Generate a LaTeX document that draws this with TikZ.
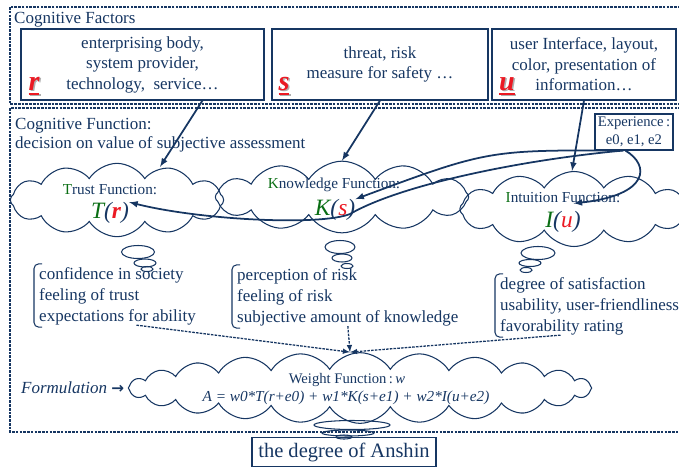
\documentclass[tikz,border=0pt]{standalone}
\usepackage{fontspec}
\setmainfont{Liberation Serif}
\newfontfamily\arrowfont{DejaVu Sans}
\usepackage{tikz}
\usetikzlibrary{arrows,calc,positioning,shapes.symbols}
\definecolor{navy}{RGB}{22,54,98}
\definecolor{green3}{RGB}{10,110,20}
\definecolor{red3}{RGB}{235,25,35}
\definecolor{shade}{RGB}{175,175,175}
\newcommand{\factorvar}[1]{\setbox0\hbox{\bfseries\itshape #1}\rlap{\rule[-4pt]{\wd0}{1.8pt}}\box0}
\newcommand{\lbrak}[1]{\draw[navy, line width=0.9pt, rounded corners=4pt] ($(#1.north west)+(3,-3)$) -- ($(#1.north west)+(-5,-3)$) -- ($(#1.south west)+(-5,2)$) -- ($(#1.south west)+(3,2)$);}
\tikzset{
  frame/.style={navy, line width=1.2pt, dash pattern=on 2.2pt off 1pt},
  factor/.style={draw=navy, line width=0.9pt, minimum height=2.13cm, align=center, inner sep=0pt,
    text=navy, font=\fontsize{14.5}{17.5}\selectfont},
  var/.style={inner sep=0pt, anchor=base, font=\fontsize{24}{24}\selectfont},
  body/.style={text=navy, inner sep=0pt, font=\fontsize{14.5}{18}\selectfont},
  list/.style={body, anchor=west, align=left},
  thought/.style={cloud, cloud puffs=12, cloud puff arc=115, cloud ignores aspect, draw=navy, line width=0.9pt},
  bubble/.style={draw=navy, line width=0.9pt},
  fname/.style={text=navy, inner sep=0pt, font=\fontsize{13}{13}\selectfont},
  fval/.style={text=navy, inner sep=0pt, font=\fontsize{20}{20}\selectfont\itshape},
  flow/.style={->, navy, line width=1.5pt},
  weigh/.style={->, navy, line width=1.1pt, dash pattern=on 2.2pt off 1pt}
}

\begin{document}
\begin{tikzpicture}[x=0.03cm, y=-0.03cm, >=latex]
  \clip (0,0) rectangle (679,468);
  \draw[frame] (10,7) rectangle (700,104);
  \draw[frame] (10,108) rectangle (700,432);

  \node[body, anchor=west] (cfac) at (14,20) {Cognitive Factors};
  \node[factor, minimum width=7.29cm] (rbox) at (142.5,64.5) {enterprising body,\\system provider,\\technology,~ service…};
  \node[factor, minimum width=6.48cm] (sbox) at (380,64.5) {threat, risk\\measure for safety …};
  \node[factor, minimum width=5.52cm] (ubox) at (584,64.5) {user Interface, layout,\\color, presentation of\\information…};

  \node[var, text=shade] (rvar-sh) at (35.5,91.5) {\factorvar{r}};
  \node[var, text=red3] (rvar) at (34,90) {\factorvar{r}};
  \node[var, text=shade] (svar-sh) at (285.5,91.5) {\factorvar{s}};
  \node[var, text=red3] (svar) at (284,90) {\factorvar{s}};
  \node[var, text=shade] (uvar-sh) at (508.5,91.5) {\factorvar{u}};
  \node[var, text=red3] (uvar) at (507,90) {\factorvar{u}};

  \node[body, anchor=west] (cfun) at (15,126) {Cognitive Function:};
  \node[body, anchor=west] (cdec) at (15,144) {decision on value of subjective assessment};
  \node[draw=navy, line width=0.9pt, text=navy, align=center, inner sep=0pt, minimum width=2.34cm,
    minimum height=1.08cm, font=\fontsize{12.5}{15}\selectfont] (exp) at (634,132) {Experience\,:\\e0, e1, e2};

  \node[thought, minimum width=6.4cm, minimum height=2.2cm] (trust) at (117,200) {};
  \node[thought, minimum width=7.6cm, minimum height=2.15cm] (know) at (342,197) {};
  \node[thought, minimum width=6.85cm, minimum height=2.25cm] (intu) at (574,209) {};

  \node[fname] (tfun) at (110,190) {\textcolor{green3}{T}rust Function:};
  \node[fval] (tval) at (110,213) {\textcolor{green3}{T}(\textcolor{red3}{\bfseries r})};
  \node[fname] (kfun) at (334,185) {\textcolor{green3}{K}nowledge Function:};
  \node[fval] (kval) at (335,210) {\textcolor{green3}{K}(\textcolor{red3}{s})};
  \node[fname] (ifun) at (563,198) {\textcolor{green3}{I}ntuition Function:};
  \node[fval] (ival) at (563,222) {\textcolor{green3}{I}(\textcolor{red3}{u})};

  \draw[bubble] (138,252) ellipse [x radius=16.5, y radius=6.5];
  \draw[bubble] (145,263) ellipse [x radius=11, y radius=4];
  \draw[bubble] (147,269) ellipse [x radius=6, y radius=2.5];
  \draw[bubble] (340,247) ellipse [x radius=15, y radius=6.5];
  \draw[bubble] (342,258) ellipse [x radius=10, y radius=4];
  \draw[bubble] (347,266) ellipse [x radius=6, y radius=2.5];
  \draw[bubble] (538,253) ellipse [x radius=17, y radius=6.5];
  \draw[bubble] (530,263) ellipse [x radius=11, y radius=3.5];
  \draw[bubble] (526,270) ellipse [x radius=6, y radius=2.5];

  \node[list] (tlist) at (39,296) {confidence in society\\feeling of trust\\expectations for ability};
  \node[list] (klist) at (237,297) {perception of risk\\feeling of risk\\subjective amount of knowledge};
  \node[list] (ilist) at (500,306) {degree of satisfaction\\usability, user-friendliness\\favorability rating};
  \lbrak{tlist}
  \lbrak{klist}
  \lbrak{ilist}

  \node[thought, cloud puffs=24, minimum width=13.9cm, minimum height=2.12cm] (wgt) at (360,388) {};
  \node[fname, font=\fontsize{12.5}{12.5}\selectfont] (wname) at (347,380) {Weight Function\,:\,\textit{w}};
  \node[fname] (wform) at (346,398) {\itshape A = w0*T(r+e0) + w1*K(s+e1) + w2*I(u+e2)};
  \node[body, anchor=west] (form) at (21,388) {\textit{Formulation} {\arrowfont\bfseries\fontsize{13}{13}\selectfont →}};

  \draw[bubble] (352,425) ellipse [x radius=38, y radius=4.5];
  \draw[bubble] (348,433) ellipse [x radius=26, y radius=3];
  \draw[bubble] (344,437) ellipse [x radius=8, y radius=2];
  \node[draw=navy, line width=0.9pt, text=navy, inner sep=0pt, minimum width=5.52cm, minimum height=0.87cm,
    font=\fontsize{17.5}{17.5}\selectfont] (anshin) at (344,452) {the degree of Anshin};

  \draw[flow] (rbox.-31.7) -- ($(trust.north)+(43,4)$);
  \draw[flow] (sbox.south) -- (know.north);
  \draw[flow] (ubox.south) -- ($(intu.north)+(-2,0)$);
  \draw[flow] (exp.-120) .. controls (488,150) .. (kval.north east);
  \draw[flow] (exp.-120) .. controls (520,160) and (400,185) .. (350,214) .. controls (320,226) and (200,220) .. (tval.north east);
  \draw[flow] (exp.-115) .. controls (650,165) and (650,195) .. (ifun.-27);

  \draw[weigh] (tlist.-57) -- ($(wgt.north)+(-10,0)$);
  \draw[weigh] (klist.south) -- ($(wgt.north)+(-10,0)$);
  \draw[weigh] (ilist.-135) -- ($(wgt.north)+(-10,0)$);
\end{tikzpicture}
\end{document}
